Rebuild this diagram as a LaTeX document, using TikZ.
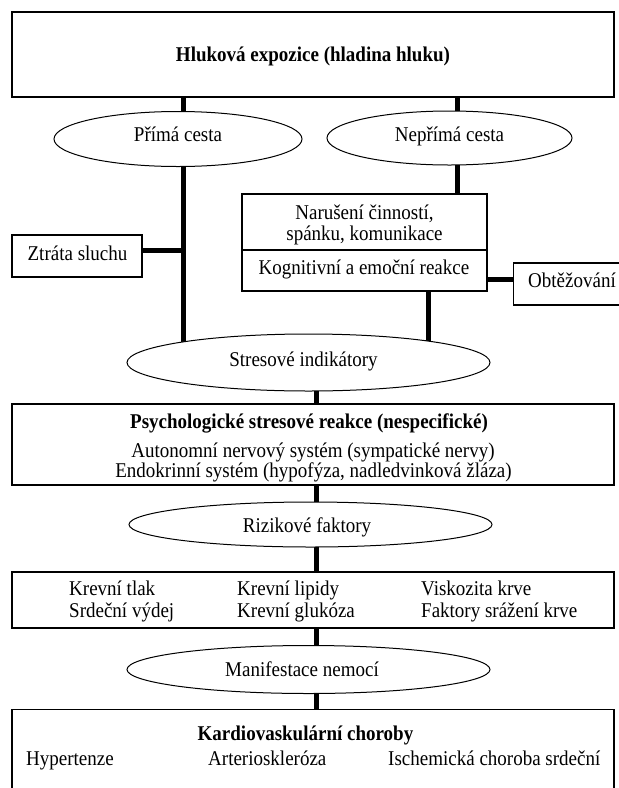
\documentclass[tikz,border=0pt]{standalone}
\usepackage{fontspec}
\setmainfont{Liberation Serif}[FakeStretch=0.905]
\usetikzlibrary{shapes.geometric,backgrounds}
\begin{document}
\begin{tikzpicture}[x=1pt,y=-1pt,
  every node/.style={font=\fontsize{21}{24}\selectfont},
  box/.style={draw, line width=1.3pt, fill=white, inner sep=0pt},
  oval/.style={draw, ellipse, line width=1pt, fill=white, inner sep=0pt},
  txt/.style={inner sep=0pt, anchor=base},
  txtw/.style={inner sep=0pt, anchor=base west},
  conn/.style={line width=5pt}]
\clip (0,0) rectangle (619,788);

% boxes and ellipses
\node[box, minimum width=602pt, minimum height=85pt] (top) at (313,54.5) {};
\node[txt] (toptxt) at (313,61) {\bfseries Hluková expozice (hladina hluku)};

\node[oval, minimum width=248pt, minimum height=55pt] (prima) at (178,139) {};
\node[txt] (primatxt) at (178,141) {Přímá cesta};
\node[oval, minimum width=245pt, minimum height=54pt] (neprima) at (449.5,138) {};
\node[txt] (nepritxt) at (449.5,141) {Nepřímá cesta};

\node[box, minimum width=245pt, minimum height=56pt] (narus) at (364.5,222) {};
\node[txt] (narus1) at (364.5,219) {Narušení činností,};
\node[txt] (narus2) at (364.5,240) {spánku, komunikace};
\node[box, minimum width=245pt, minimum height=41pt] (kogn) at (364.5,270.5) {};
\node[txt] (kogntxt) at (364,274) {Kognitivní a emoční reakce};

\node[box, minimum width=130pt, minimum height=42pt] (ztrata) at (77,256) {};
\node[txt] (ztratatxt) at (77.5,260) {Ztráta sluchu};
\node[box, anchor=west, minimum width=130pt, minimum height=42pt] (obt) at (513,284) {};
\node[txtw] (obttxt) at (528,287) {Obtěžování};

\node[oval, minimum width=363pt, minimum height=57pt] (stres) at (308.5,362.5) {};
\node[txt] (strestxt) at (303.5,366) {Stresové indikátory};

\node[box, minimum width=602pt, minimum height=81pt] (psych) at (313,444.5) {};
\node[txt] (psych1) at (309,428) {\bfseries Psychologické stresové reakce (nespecifické)};
\node[txt] (psych2) at (313,457) {Autonomní nervový systém (sympatické nervy)};
\node[txt] (psych3) at (313.5,477) {Endokrinní systém (hypofýza, nadledvinková žláza)};

\node[oval, minimum width=363pt, minimum height=45pt] (riz) at (310.5,524.5) {};
\node[txt] (riztxt) at (307,532) {Rizikové faktory};

\node[box, minimum width=602pt, minimum height=56pt] (krev) at (313,600) {};
\node[txtw] (k11) at (69,595) {Krevní tlak};
\node[txtw] (k12) at (237,595) {Krevní lipidy};
\node[txtw] (k13) at (421,595) {Viskozita krve};
\node[txtw] (k21) at (69,617) {Srdeční výdej};
\node[txtw] (k22) at (237,617) {Krevní glukóza};
\node[txtw] (k23) at (421,617) {Faktory srážení krve};

\node[oval, minimum width=363pt, minimum height=48pt] (manif) at (308.5,669.5) {};
\node[txt] (maniftxt) at (302,676) {Manifestace nemocí};

\node[box, anchor=north, minimum width=602pt, minimum height=100pt] (kardio) at (313,709) {};
\node[txt] (kardiotxt) at (305.5,740) {\bfseries Kardiovaskulární choroby};
\node[txtw] (c1) at (26,765) {Hypertenze};
\node[txtw] (c2) at (208,765) {Arterioskleróza};
\node[txtw] (c3) at (388,765) {Ischemická choroba srdeční};

% connectors
\coordinate (cx1) at (183,0);
\coordinate (cx2) at (457,0);
\coordinate (cx3) at (428,0);
\coordinate (cx4) at (316,0);
\coordinate (zy) at (0,250);
\coordinate (oy) at (0,279);
\begin{scope}[on background layer]
\fill[white] (0,0) rectangle (619,788);
\draw[conn] (top.south -| cx1) -- (stres.center -| cx1);
\draw[conn] (top.south -| cx2) -- (narus.north -| cx2);
\draw[conn] (ztrata.east |- zy) -- (cx1 |- zy);
\draw[conn] (kogn.east |- oy) -- (obt.west |- oy);
\draw[conn] (kogn.south -| cx3) -- (stres.center -| cx3);
\draw[conn] (stres.center -| cx4) -- (kardio.north -| cx4);
\end{scope}
\end{tikzpicture}
\end{document}
